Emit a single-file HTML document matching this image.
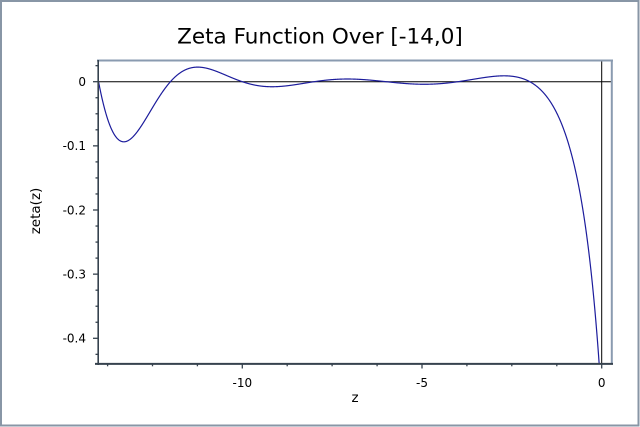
<!DOCTYPE html>
<html>
<head>
<meta charset="utf-8">
<style>
  html, body { margin: 0; padding: 0; background: #ffffff; }
  svg { display: block; }
  text { font-family: "DejaVu Sans", "Liberation Sans", sans-serif; fill: #000; }
</style>
</head>
<body>
<svg width="640" height="427" viewBox="0 0 640 427" xmlns="http://www.w3.org/2000/svg">
  <defs>
    <clipPath id="plotclip">
      <rect x="98" y="61" width="514" height="303"/>
    </clipPath>
  </defs>
  <rect x="0" y="0" width="640" height="427" fill="#ffffff"/>
  <rect x="1" y="1" width="637.5" height="424.5" fill="none" stroke="#8896a6" stroke-width="2"/>

  <text x="320" y="43.3" font-size="21.5" text-anchor="middle">Zeta Function Over [-14,0]</text>

  <line x1="98" y1="81.7" x2="612" y2="81.7" stroke="#000" stroke-width="1"/>
  <line x1="601.7" y1="61" x2="601.7" y2="364" stroke="#000" stroke-width="1"/>

  <g clip-path="url(#plotclip)">
    <path id="c" fill="none" stroke="#1c1c9c" stroke-width="1.2" stroke-linejoin="round"
      d="M98.5 82 L105 110 L112 132 L118 141 L124 143 L130 140 L140 128 L150 111 L160 95 L171 82 L180 73 L190 68 L198 67 L210 70 L225 76 L240 82 L255 86 L272 88 L290 86 L305 83 L320 81 L340 80 L360 80.5 L380 82 L400 83 L425 84 L445 83 L460 81.5 L480 79 L505 77 L520 78 L535 82 L550 92 L565 115 L575 145 L585 195 L593 260 L600 345 L602 380"/>
  </g>

  <line x1="97" y1="60.5" x2="613" y2="60.5" stroke="#8a9bb0" stroke-width="2"/>
  <line x1="611.8" y1="60" x2="611.8" y2="364" stroke="#8a9bb0" stroke-width="2"/>
  <line x1="98.2" y1="60" x2="98.2" y2="365" stroke="#36424e" stroke-width="1.6"/>
  <line x1="95" y1="363.9" x2="613" y2="363.9" stroke="#36424e" stroke-width="2"/>

  <g font-size="12" text-anchor="end">
    <text x="86" y="86">0</text>
    <text x="86" y="150.1">-0.1</text>
    <text x="86" y="214.3">-0.2</text>
    <text x="86" y="278.4">-0.3</text>
    <text x="86" y="342.6">-0.4</text>
  </g>
  <g font-size="12" text-anchor="middle">
    <text x="242.3" y="386.9">-10</text>
    <text x="422" y="386.9">-5</text>
    <text x="601.7" y="386.9">0</text>
  </g>

  <text x="355" y="402" font-size="13.5" text-anchor="middle">z</text>
  <text transform="translate(40,211) rotate(-90)" font-size="13.5" text-anchor="middle">zeta(z)</text>

  <g stroke="#36424e" stroke-width="1.3">
    <line x1="93" y1="81.7" x2="98" y2="81.7"/>
    <line x1="93" y1="145.85" x2="98" y2="145.85"/>
    <line x1="93" y1="210" x2="98" y2="210"/>
    <line x1="93" y1="274.15" x2="98" y2="274.15"/>
    <line x1="93" y1="338.3" x2="98" y2="338.3"/>
    <line x1="95.5" y1="65.66" x2="98" y2="65.66"/>
    <line x1="95.5" y1="97.74" x2="98" y2="97.74"/>
    <line x1="95.5" y1="113.78" x2="98" y2="113.78"/>
    <line x1="95.5" y1="129.81" x2="98" y2="129.81"/>
    <line x1="95.5" y1="161.89" x2="98" y2="161.89"/>
    <line x1="95.5" y1="177.93" x2="98" y2="177.93"/>
    <line x1="95.5" y1="193.96" x2="98" y2="193.96"/>
    <line x1="95.5" y1="226.04" x2="98" y2="226.04"/>
    <line x1="95.5" y1="242.08" x2="98" y2="242.08"/>
    <line x1="95.5" y1="258.11" x2="98" y2="258.11"/>
    <line x1="95.5" y1="290.19" x2="98" y2="290.19"/>
    <line x1="95.5" y1="306.23" x2="98" y2="306.23"/>
    <line x1="95.5" y1="322.26" x2="98" y2="322.26"/>
    <line x1="95.5" y1="354.34" x2="98" y2="354.34"/>
    <line x1="242.3" y1="364" x2="242.3" y2="368.5"/>
    <line x1="422" y1="364" x2="422" y2="368.5"/>
    <line x1="601.7" y1="364" x2="601.7" y2="368.5"/>
    <line x1="107.6" y1="364" x2="107.6" y2="366.3"/>
    <line x1="152.5" y1="364" x2="152.5" y2="366.3"/>
    <line x1="197.4" y1="364" x2="197.4" y2="366.3"/>
    <line x1="287.2" y1="364" x2="287.2" y2="366.3"/>
    <line x1="332.1" y1="364" x2="332.1" y2="366.3"/>
    <line x1="377.1" y1="364" x2="377.1" y2="366.3"/>
    <line x1="466.9" y1="364" x2="466.9" y2="366.3"/>
    <line x1="511.8" y1="364" x2="511.8" y2="366.3"/>
    <line x1="556.8" y1="364" x2="556.8" y2="366.3"/>
  </g>
</svg>
<script>
(function(){
  function gamma(z){
    var p=[0.99999999999980993,676.5203681218851,-1259.1392167224028,771.32342877765313,-176.61502916214059,12.507343278686905,-0.13857109526572012,9.9843695780195716e-6,1.5056327351493116e-7];
    z-=1; var x=p[0];
    for(var i=1;i<9;i++) x+=p[i]/(z+i);
    var t=z+7.5;
    return Math.sqrt(2*Math.PI)*Math.pow(t,z+0.5)*Math.exp(-t)*x;
  }
  function zp(a){
    var N=12, s=0;
    for(var k=1;k<N;k++) s+=Math.pow(k,-a);
    s+=Math.pow(N,1-a)/(a-1)+0.5*Math.pow(N,-a)
      +a*Math.pow(N,-a-1)/12
      -a*(a+1)*(a+2)*Math.pow(N,-a-3)/720
      +a*(a+1)*(a+2)*(a+3)*(a+4)*Math.pow(N,-a-5)/30240;
    return s;
  }
  function zeta(s){
    return Math.pow(2,s)*Math.pow(Math.PI,s-1)*Math.sin(Math.PI*s/2)*gamma(1-s)*zp(1-s);
  }
  try{
    var d='';
    for(var i=0;i<=2800;i++){
      var s=-14+i*0.005;
      if(s>-1e-4) s=-1e-4;
      var y=zeta(s);
      var px=601.7+s*35.94;
      var py=81.7-y*641.5;
      if(!isFinite(py)) continue;
      if(py>420) py=420;
      d+=(d?'L':'M')+px.toFixed(2)+' '+py.toFixed(2);
    }
    if(d) document.getElementById('c').setAttribute('d',d);
  }catch(e){}
})();
</script>
</body>
</html>
